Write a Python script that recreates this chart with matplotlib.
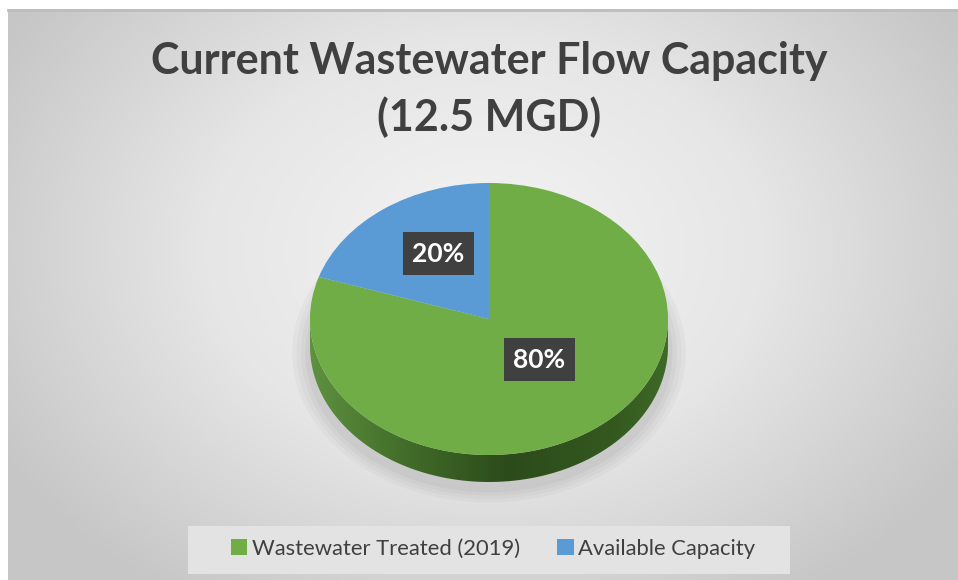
import numpy as np
import matplotlib
matplotlib.use("Agg")
import matplotlib.pyplot as plt
from matplotlib.patches import Rectangle, Ellipse, PathPatch
from matplotlib.path import Path
from matplotlib.colors import LinearSegmentedColormap

# data
labels = ["Wastewater Treated (2019)", "Available Capacity"]
values = [80, 20]
colors = ["#70ad47", "#5b9bd5"]
title_lines = ["Current Wastewater Flow Capacity", "(12.5 MGD)"]

W, H = 958, 580
plt.rcParams['font.family'] = ['Lato', 'DejaVu Sans']

fig = plt.figure(figsize=(W / 100, H / 100), dpi=100)
fig.patch.set_facecolor("white")

# background axes in pixel coords
bg = fig.add_axes([0, 0, 1, 1])
bg.set_xlim(0, W)
bg.set_ylim(H, 0)
bg.axis("off")

# radial gradient background
xs = np.linspace(8, W, 400)
ys = np.linspace(9, H, 250)
gx, gy = np.meshgrid(xs, ys)
d = np.sqrt(((gx - 485) / 560) ** 2 + ((gy - 250) / 420) ** 2)
d = np.clip(d, 0, 1)
bgcmap = LinearSegmentedColormap.from_list("bg", ["#f4f4f4", "#e6e6e6", "#c6c6c6"])
bg.imshow(d, cmap=bgcmap, vmin=0, vmax=1, extent=(8, W, H, 9), aspect="auto", zorder=0)
bg.plot([8, W], [9.5, 9.5], color="#bdbdbd", lw=2, zorder=1)

# title
fig.text(489 / W, 1 - 61 / H, title_lines[0], ha="center", va="center",
         fontsize=31, fontweight="bold", color="#404040")
fig.text(489 / W, 1 - 117 / H, title_lines[1], ha="center", va="center",
         fontsize=31, fontweight="bold", color="#404040")

# pie geometry (pixels)
cx, cy, rx, ry = 489, 319, 179, 136
depth = 27 / ry
x0, x1 = -1.1, 1.1
y0, y1 = -1.45, 1.1
ax = fig.add_axes([(cx + x0 * rx) / W, (H - cy - (-y0) * ry) / H,
                   (x1 - x0) * rx / W, (y1 - y0) * ry / H])
ax.axis("off")

# soft shadow under the pie
for k, a in enumerate([0.05, 0.05, 0.06, 0.07]):
    s = 1.0 + 0.025 * (4 - k)
    ax.add_patch(Ellipse((0, -depth - 0.05), 2 * s, 2 * s, facecolor="#707070",
                         alpha=a, edgecolor="none", zorder=0))

# side of the pie, horizontal gradient clipped to the extruded band
t = np.linspace(np.pi, 2 * np.pi, 100)
top = np.column_stack([np.cos(t), np.sin(t)])
bot = np.column_stack([np.cos(t[::-1]), np.sin(t[::-1]) - depth])
side_path = Path(np.vstack([top, bot, top[:1]]))
side_patch = PathPatch(side_path, facecolor="none", edgecolor="none")
ax.add_patch(side_patch)
sidecmap = LinearSegmentedColormap.from_list(
    "side", [(0, "#5f9140"), (0.25, "#436f2a"), (0.55, "#2c4b1b"), (0.85, "#34591f"), (1, "#3f6a27")])
grad = np.linspace(0, 1, 256).reshape(1, -1)
im = ax.imshow(grad, cmap=sidecmap, extent=(-1, 1, -1 - depth, 0), aspect="auto", zorder=1)
im.set_clip_path(side_patch)

wedges, texts, autotexts = ax.pie(values, colors=colors, startangle=90, counterclock=False,
                                  autopct="%1.0f%%", pctdistance=0.48,
                                  wedgeprops=dict(linewidth=0),
                                  textprops=dict(color="white", fontsize=19, fontweight="bold"))
for w in wedges:
    w.set_zorder(2)
for at in autotexts:
    # perspective: slice vertex sits a little above the ellipse centre
    px, py = at.get_position()
    at.set_position((px, py + 0.09))
    at.set_zorder(5)
    at.set_bbox(dict(boxstyle="square,pad=0.36", facecolor="#404040", edgecolor="none"))
ax.set_xlim(x0, x1)
ax.set_ylim(y0, y1)
ax.set_aspect("auto")

# legend
bg.add_patch(Rectangle((188, 526), 602, 48, facecolor="#e3e3e3", edgecolor="none", zorder=2))
leg = fig.legend(wedges, labels, loc="center", bbox_to_anchor=(493 / W, 1 - 549 / H),
                 ncol=2, frameon=False, fontsize=15.8, handlelength=0.75, handleheight=0.75,
                 handletextpad=0.2, columnspacing=1.7)
for txt in leg.get_texts():
    txt.set_color("#404040")

fig.savefig("out.png", dpi=100)
